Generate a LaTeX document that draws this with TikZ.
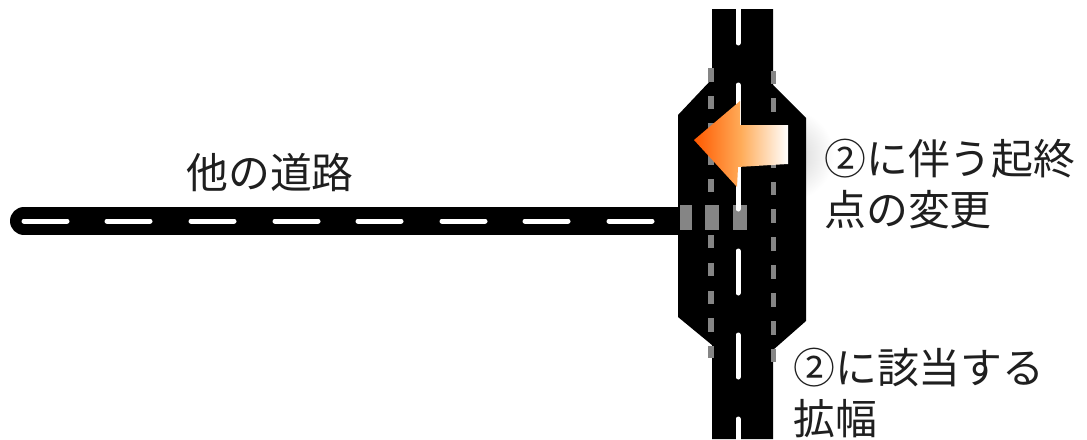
\documentclass[tikz,border=0pt]{standalone}
\usepackage{fontspec}
\newfontfamily\jpfont{Noto Sans CJK JP}
\begin{document}
\begin{tikzpicture}[x=0.75pt,y=-0.75pt,
  road/.style={fill=black,draw=none},
  whiteline/.style={line width=3.75pt,draw=white,line cap=round},
  greymark/.style={fill=black!48,draw=none},
  label/.style={font=\jpfont\fontsize{31.4}{38.5}\selectfont,anchor=west,align=left,inner sep=0pt,text=black!88}]
\useasboundingbox (0,0) rectangle (1087,439);
\fill[white] (0,0) rectangle (1087,439);
% soft shadow of the arrow
\shade[inner color=black!18,outer color=white] (788,155) ellipse [x radius=46,y radius=46];
% roads
\coordinate (sideStart) at (24,221);
\coordinate (sideEnd) at (690,221);
\draw[line width=21pt,line cap=round,draw=black] (sideStart) -- (sideEnd);
\fill[road] (712,9) -- (773,9) -- (773,85) -- (806,118) -- (806,321) -- (773,350) -- (773,439) -- (712,439) -- (712,345) -- (678,317) -- (678,115) -- (712,79) -- cycle;
\clip (0,0) rectangle (1087,439);
% centre line of the main road
\foreach \a/\b in {-1/43,85/127,167/209,251/293,335/377,419/445}
  \draw[whiteline] (738,\a) -- (738,\b);
% centre line of the side road
\foreach \a in {24,107,191,275,358,442,525,609}
  \draw[whiteline] (\a,221) -- (\a+43,221);
% grey lane marks
\foreach \a/\b in {68/82,96/109,123/137,151/165,179/192,235/248,263/276,291/304,318/332,346/358}
  \fill[greymark] (708,\a) rectangle (713.5,\b);
\foreach \a/\b in {71/84,98/112,126/140,154/168,182/195,209/223,237/251,265/279,293/307,321/335,349/362}
  \fill[greymark] (770.5,\a) rectangle (776,\b);
\fill[greymark] (680,205) rectangle (692,230);
\fill[greymark] (705,205) rectangle (719,230);
\fill[greymark] (733,205) rectangle (747,230);
\draw[whiteline] (738,200) -- (738,209);
% arrow
\shade[left color=orange!70!red,right color=white,middle color=orange!65!white]
  (694,140) -- (740,101) -- (740,125) -- (788,125) -- (788,164) -- (738,167) -- (737,187) -- cycle;
% texts
\node[label] (other) at (186,173) {他の道路};
\node[label] (change) at (824,184) {②に伴う起終\\点の変更};
\node[label] (widen) at (793,393) {②に該当する\\拡幅};
\end{tikzpicture}
\end{document}
